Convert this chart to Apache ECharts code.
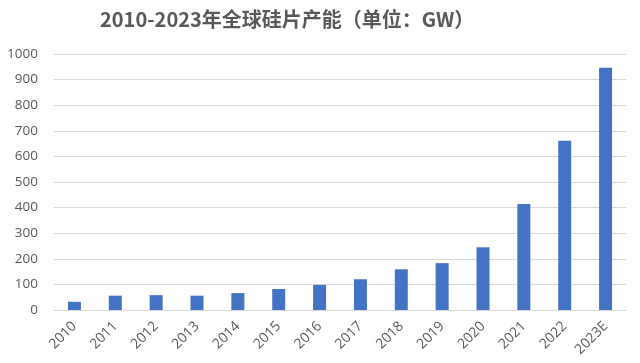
<!DOCTYPE html>
<html><head><meta charset="utf-8">
<script src="https://cdn.jsdelivr.net/npm/echarts@6/dist/echarts.min.js"></script>
<style>html,body{margin:0;padding:0;background:#fff}#c{width:640px;height:363px}</style>
</head><body><div id="c"></div>
<script>
var categories = ['2010','2011','2012','2013','2014','2015','2016','2017','2018','2019','2020','2021','2022','2023E'];
var capacity = [32, 56, 58, 56, 66, 82, 98, 120, 159, 183, 245, 414, 661, 946];
var titleText = '2010-2023年全球硅片产能（单位：GW）';

var chart = echarts.init(document.getElementById('c'));
chart.setOption({
  animation: false,
  title: {
    text: titleText,
    left: 95, top: 4,
    textStyle: {fontFamily: '"Noto Sans CJK SC", "Noto Sans", sans-serif', fontWeight: 'bold', fontSize: 20, color: '#595959'}
  },
  grid: {left: 54, right: 14, top: 54, bottom: 53, containLabel: false},
  xAxis: {
    type: 'category', data: categories,
    axisLine: {lineStyle: {color: '#d9d9d9'}},
    axisTick: {show: false},
    axisLabel: {rotate: 45, color: '#595959', fontSize: 14, margin: 14, interval: 0,
      fontFamily: '"Open Sans", "Noto Sans", sans-serif'}
  },
  yAxis: {
    type: 'value', min: 0, max: 1000, interval: 100,
    axisLine: {show: false}, axisTick: {show: false},
    splitLine: {lineStyle: {color: '#d9d9d9'}},
    axisLabel: {color: '#595959', fontSize: 13.5, margin: 16,
      formatter: function (v) { return String(v); },
      fontFamily: '"Open Sans", "Noto Sans", sans-serif'}
  },
  series: [{
    type: 'bar', data: capacity, barWidth: 13,
    itemStyle: {color: '#4472C4'}
  }]
});
</script></body></html>
